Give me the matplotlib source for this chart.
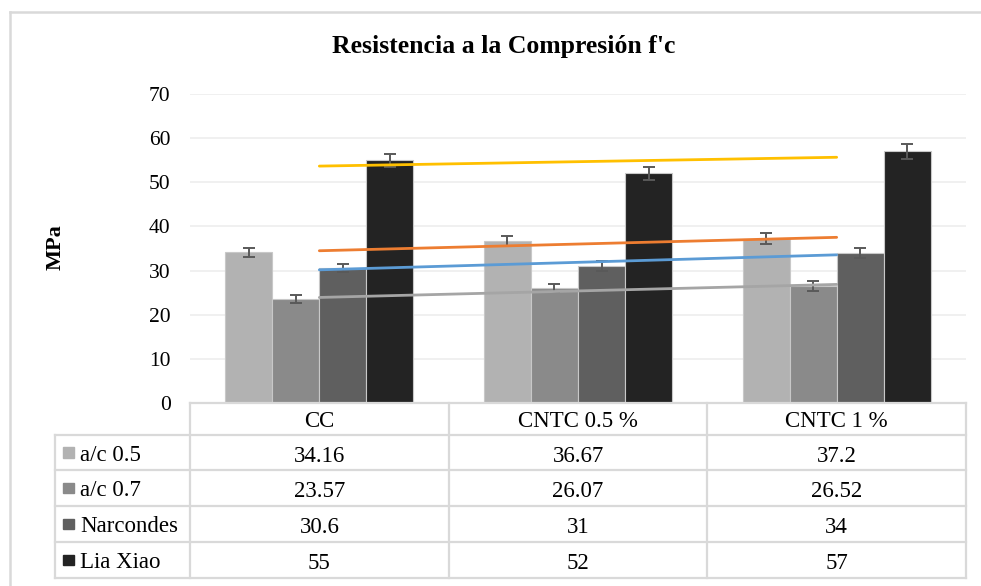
import numpy as np
import matplotlib
matplotlib.use("Agg")
import matplotlib.pyplot as plt
from matplotlib.lines import Line2D
from matplotlib.patches import Rectangle

plt.rcParams['font.family'] = ['Liberation Serif', 'DejaVu Serif']

# data
categories = ['CC', 'CNTC 0.5 %', 'CNTC 1 %']
series = ['a/c 0.5', 'a/c 0.7', 'Narcondes', 'Lia Xiao']
ac05 = [34.16, 36.67, 37.2]
ac07 = [23.57, 26.07, 26.52]
narcondes = [30.6, 31, 34]
lia_xiao = [55, 52, 57]
# error bars
err_ac05 = [1.05, 1.1, 1.25]
err_ac07 = [1.0, 1.0, 1.05]
err_narcondes = [1.0, 1.1, 1.2]
err_lia = [1.5, 1.5, 1.65]

values = [ac05, ac07, narcondes, lia_xiao]
errors = [err_ac05, err_ac07, err_narcondes, err_lia]
bar_colors = ['#b2b2b2', '#8a8a8a', '#5f5f5f', '#232323']
trend_colors = ['#ed7d31', '#a5a5a5', '#5b9bd5', '#ffc000']
grid_col = '#d9d9d9'

W, H = 981, 586
def fx(x):
    return x / W
def fy(y):
    return 1 - y / H

fig = plt.figure(figsize=(W / 100, H / 100), dpi=100)
ax = fig.add_axes([fx(190), fy(403), (966 - 190) / W, (403 - 94) / H])

x = np.arange(len(categories))
width = 0.182
offsets = (np.arange(len(series)) - 1.5) * width

for i, (vals, errs) in enumerate(zip(values, errors)):
    ax.bar(x + offsets[i], vals, width, color=bar_colors[i], edgecolor='#c8c8c8',
           linewidth=0.8, yerr=errs, zorder=2,
           error_kw=dict(ecolor='#595959', capsize=4, elinewidth=1.4, capthick=1.4, zorder=3))

# linear trendlines
for i, vals in enumerate(values):
    coef = np.polyfit(x, vals, 1)
    xs = np.array([x[0], x[-1]])
    ax.plot(xs, np.polyval(coef, xs), color=trend_colors[i], lw=2.0,
            solid_capstyle='round', zorder=4)

ax.set_xlim(-0.5, len(categories) - 0.5)
ax.set_ylim(0, 70)
ax.set_yticks(range(0, 71, 10))
ax.set_xticks([])
ax.tick_params(axis='y', length=0, pad=14, labelsize=15.5)
ax.yaxis.grid(True, color='#efefef', lw=1.3)
ax.set_axisbelow(True)
for s in ax.spines.values():
    s.set_visible(False)

fig.text(fx(504), fy(47), "Resistencia a la Compresión f'c", ha='center', va='center',
         fontsize=18.5, fontweight='bold')
fig.text(fx(56), fy(247), 'MPa', rotation=90, ha='center', va='center',
         fontsize=16, fontweight='bold')

# data table
pos = ax.get_position()
col_edges = pos.x0 + pos.width * np.arange(len(categories) + 1) / len(categories)
left_edge = fx(55)
row_y = [403, 435, 470, 506, 542, 578]

def hline(x0, x1, y):
    fig.add_artist(Line2D([x0, x1], [fy(y), fy(y)], color=grid_col, lw=1.6,
                          transform=fig.transFigure))

def vline(xf, y0, y1):
    fig.add_artist(Line2D([xf, xf], [fy(y0), fy(y1)], color=grid_col, lw=1.6,
                          transform=fig.transFigure))

hline(col_edges[0], col_edges[-1], row_y[0])
for y in row_y[1:]:
    hline(left_edge, col_edges[-1], y)
vline(left_edge, row_y[1], row_y[-1])
for xe in col_edges:
    vline(xe, row_y[0], row_y[-1])

centers = (col_edges[:-1] + col_edges[1:]) / 2
for j, cat in enumerate(categories):
    fig.text(centers[j], fy((row_y[0] + row_y[1]) / 2 + 8), cat, ha='center',
             va='baseline', fontsize=16.5)

for i, name in enumerate(series):
    yc = (row_y[i + 1] + row_y[i + 2]) / 2
    fig.add_artist(Rectangle((fx(63), fy(yc + 5.25)), 10.5 / W, 10.5 / H,
                             color=bar_colors[i], transform=fig.transFigure))
    fig.text(fx(80), fy(yc + 8.5), name, ha='left', va='baseline', fontsize=16.5)
    for j, v in enumerate(values[i]):
        fig.text(centers[j], fy(yc + 9), f'{v:g}', ha='center', va='baseline',
                 fontsize=16.5)

# outer chart border
fig.add_artist(Line2D([fx(10), 1], [fy(11.5), fy(11.5)], color=grid_col, lw=1.8,
                      transform=fig.transFigure))
fig.add_artist(Line2D([fx(10), fx(10)], [fy(11.5), 0], color=grid_col, lw=1.8,
                      transform=fig.transFigure))

fig.savefig('out.png', dpi=100)
